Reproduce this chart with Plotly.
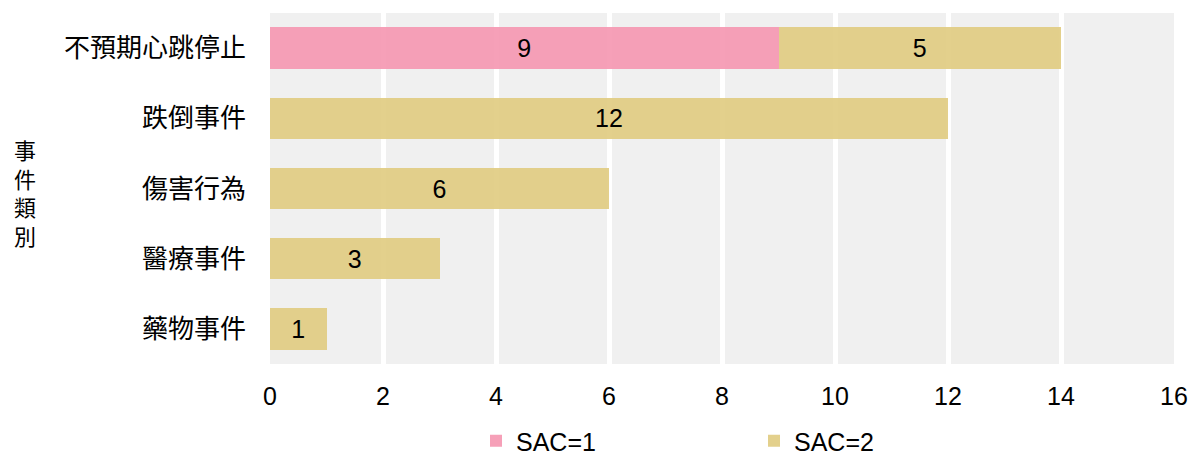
import plotly.graph_objects as go

categories = ["不預期心跳停止", "跌倒事件", "傷害行為", "醫療事件", "藥物事件"]
sac1 = [9, None, None, None, None]
sac2 = [5, 12, 6, 3, 1]
series_names = ["SAC=1", "SAC=2"]
x_ticks = [0, 2, 4, 6, 8, 10, 12, 14, 16]
y_title = "事<br>件<br>類<br>別"

FONT = "Arial, 'Liberation Sans', 'Noto Sans CJK TC', sans-serif"
NUM = 25
L, R, T, B = 270, 16, 13, 90
PW = 1190 - L - R
PH = 454 - T - B

fig = go.Figure()
fig.add_trace(go.Bar(
    y=categories, x=sac1, name=series_names[0], orientation="h",
    marker=dict(color="rgba(245,150,176,0.9)", line=dict(width=0)),
    text=[str(v) if v else "" for v in sac1], textposition="inside",
    insidetextanchor="middle", textfont=dict(color="black", size=NUM, family=FONT),
    width=0.59,
))
fig.add_trace(go.Bar(
    y=categories, x=sac2, name=series_names[1], orientation="h",
    marker=dict(color="rgba(224,203,128,0.9)", line=dict(width=0)),
    text=[str(v) for v in sac2], textposition="inside",
    insidetextanchor="middle", textfont=dict(color="black", size=NUM, family=FONT),
    width=0.59,
))

fig.add_annotation(
    text=y_title, xref="paper", yref="paper", x=(25 - L) / PW, y=(454 - B - 194) / PH,
    showarrow=False, xanchor="center", yanchor="middle", align="center",
    font=dict(size=22, color="black", family=FONT),
)

fig.update_layout(
    barmode="stack",
    width=1190, height=454,
    margin=dict(l=L, r=R, t=T, b=B, autoexpand=False),
    paper_bgcolor="white",
    plot_bgcolor="#F0F0F0",
    font=dict(family=FONT, size=NUM, color="black"),
    uniformtext=dict(minsize=NUM, mode="show"),
    xaxis=dict(
        range=[0, 16], tickvals=x_ticks, ticktext=[str(t) for t in x_ticks],
        showgrid=True, gridcolor="white", gridwidth=4.5,
        zeroline=False, showline=False, ticks="", ticklabelstandoff=15,
        tickfont=dict(size=NUM, family=FONT, color="black"),
        automargin=False,
    ),
    yaxis=dict(
        categoryorder="array", categoryarray=categories, autorange="reversed",
        showgrid=False, zeroline=False, showline=False, ticks="",
        ticklabelstandoff=23, automargin=False,
        tickfont=dict(size=26, family=FONT, color="black"),
    ),
    legend=dict(
        orientation="h", xref="paper", yref="container",
        x=(476 - L) / PW, xanchor="left", y=(454 - 441) / 454, yanchor="middle",
        font=dict(size=NUM, family=FONT, color="black"),
        entrywidth=233, traceorder="normal",
        bgcolor="rgba(0,0,0,0)",
    ),
    showlegend=True,
)

fig.write_html(
    "out.html",
    config={"displayModeBar": False},
    post_script="document.body.style.margin='0px';document.body.style.overflow='hidden';",
)
